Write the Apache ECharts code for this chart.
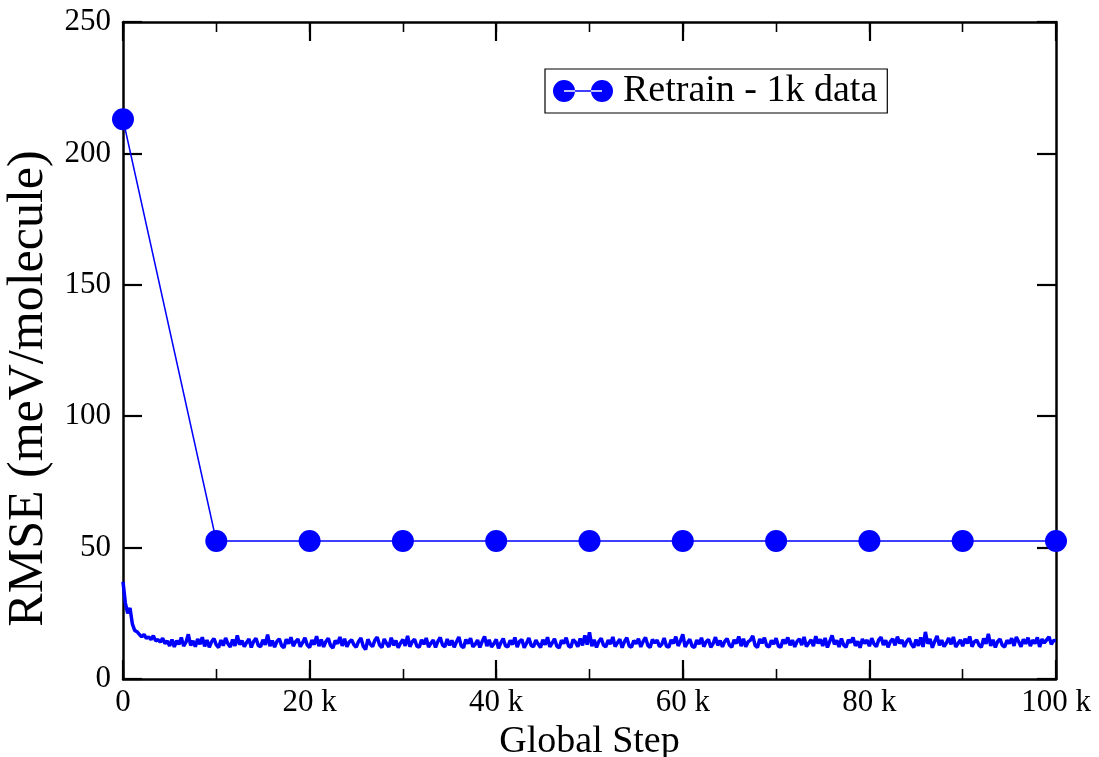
<!DOCTYPE html>
<html>
<head>
<meta charset="utf-8">
<script src="https://cdn.jsdelivr.net/npm/echarts@6/dist/echarts.min.js"></script>
<style>
html,body{margin:0;padding:0;background:#fff;}
#chart{width:1099px;height:757px;}
</style>
</head>
<body>
<div id="chart"></div>
<script>
// ---- data ----
const seriesName = 'Retrain - 1k data';
const markerSteps = [0, 10000, 20000, 30000, 40000, 50000, 60000, 70000, 80000, 90000, 100000];
const markerRmse = [213, 52.5, 52.5, 52.5, 52.5, 52.5, 52.5, 52.5, 52.5, 52.5, 52.5];

const noiseStep = 250; // sampling of the training curve (global steps)
const noiseRmse = [
 37, 29, 25, 27, 21, 18.5, 18, 17, 16, 17, 15.5, 16, 15, 16.5, 14.5, 15, 14, 15.5, 13.5, 14.5,
 12.6, 15.0, 12.2, 14.6, 13.2, 15.8, 12.5, 14.0, 17.0, 12.8, 14.5, 12.3, 15.2, 13.2, 15.9, 12.4, 14.8, 12.1, 14.2, 15.4,
 13.0, 12.0, 14.8, 12.7, 15.6, 13.4, 12.2, 15.0, 12.6, 16.6, 13.1, 14.6, 12.3, 13.9, 15.2, 12.0, 14.3, 15.5, 12.8, 12.3,
 14.9, 13.0, 16.9, 12.5, 14.6, 12.1, 14.3, 15.3, 12.7, 11.9, 15.1, 13.4, 15.9, 12.5, 14.2, 15.2, 12.3, 13.8, 15.7, 12.9,
 12.0, 14.8, 13.1, 16.3, 12.5, 15.0, 12.2, 14.3, 15.5, 12.7, 11.8, 14.6, 13.4, 16.0, 12.6, 15.3, 12.3, 14.1, 14.9, 13.0,
 12.1, 14.3, 15.6, 12.5, 11.2, 15.1, 13.3, 12.3, 14.8, 15.9, 12.9, 12.0, 15.2, 13.5, 12.2, 15.7, 12.8, 14.6, 11.9, 13.7,
 15.0, 12.6, 16.4, 12.3, 14.2, 15.1, 12.5, 12.1, 14.9, 13.2, 15.6, 12.2, 13.6, 14.8, 12.0, 14.3, 15.8, 12.9, 12.3, 15.2,
 12.8, 14.7, 12.1, 14.2, 16.0, 12.6, 11.9, 15.0, 13.5, 15.5, 12.3, 13.2, 14.8, 12.0, 14.3, 16.2, 12.5, 14.9, 12.2, 13.4,
 15.1, 11.7, 13.8, 15.4, 12.6, 12.2, 14.7, 13.1, 15.8, 12.1, 14.3, 15.0, 11.9, 13.6, 15.6, 12.8, 12.3, 14.8, 13.3, 12.0,
 14.9, 13.0, 15.9, 12.2, 13.7, 15.3, 12.5, 11.8, 14.7, 13.5, 15.7, 12.6, 12.1, 15.0, 14.0, 12.3, 15.4, 12.8, 16.6, 13.1,
 17.8, 12.5, 14.9, 12.0, 14.3, 15.5, 12.9, 12.2, 14.8, 13.3, 16.0, 12.3, 13.8, 15.1, 11.9, 14.2, 15.7, 12.6, 12.1, 14.6,
 13.4, 15.3, 12.2, 14.3, 15.8, 12.8, 12.0, 15.0, 13.7, 14.8, 12.3, 13.2, 15.6, 12.5, 12.1, 14.9, 13.5, 16.1, 12.6, 14.5,
 17.0, 12.2, 13.8, 15.1, 12.5, 12.0, 14.8, 13.3, 15.7, 12.3, 14.2, 15.0, 12.1, 13.5, 15.9, 12.8, 14.6, 12.2, 14.3, 15.4,
 12.9, 12.1, 14.9, 13.5, 16.2, 12.5, 15.3, 12.3, 14.2, 14.8, 16.4, 12.8, 12.0, 15.2, 13.6, 15.7, 12.6, 12.2, 14.7, 13.3,
 15.5, 12.5, 12.1, 15.0, 13.5, 15.8, 12.8, 14.8, 12.2, 14.3, 15.3, 12.9, 16.0, 12.3, 13.7, 14.9, 12.5, 16.3, 13.5, 15.1,
 12.6, 15.6, 12.0, 14.3, 16.6, 13.2, 14.7, 12.2, 15.4, 12.9, 12.1, 14.9, 13.9, 15.8, 12.6, 14.3, 11.9, 15.2, 13.5, 14.8,
 12.5, 15.5, 13.3, 12.3, 14.9, 15.9, 12.9, 14.7, 12.1, 14.2, 15.3, 12.8, 16.1, 13.5, 14.8, 12.2, 14.3, 15.4, 13.2, 12.0,
 15.0, 12.6, 15.8, 12.2, 17.9, 13.4, 15.2, 11.9, 14.3, 16.4, 12.8, 14.8, 12.3, 13.7, 15.6, 13.2, 16.0, 12.2, 13.5, 14.9,
 12.5, 15.3, 13.5, 16.2, 12.3, 14.2, 14.8, 12.9, 12.1, 15.4, 13.4, 17.2, 12.6, 14.9, 12.0, 14.3, 15.2, 12.8, 12.2, 14.7,
 13.5, 15.5, 12.6, 16.0, 14.2, 12.3, 15.1, 13.4, 15.7, 12.5, 14.8, 13.5, 15.8, 12.2, 15.2, 13.7, 14.9, 16.1, 13.2, 14.7,
 14.6
];

const xTickInterval = 20000;
const xMinorInterval = 10000;
const yTickInterval = 50;
const xLabel = 'Global Step';
const yLabel = 'RMSE (meV/molecule)';

// ---- chart ----
const FONT = "'Liberation Serif', 'Times New Roman', serif";
const BLUE = '#0000ff';
const chart = echarts.init(document.getElementById('chart'), null, {renderer: 'canvas'});

const markerData = markerSteps.map((s, i) => [s, markerRmse[i]]);
const noiseData = noiseRmse.map((v, i) => [i * noiseStep, v]);

const axisLine = {show: true, onZero: false, lineStyle: {color: '#000', width: 2.5}};
const majorTick = {show: true, inside: true, length: 19, lineStyle: {color: '#000', width: 2.2}};
const minorTickStyle = {show: true, inside: true, length: 10, lineStyle: {color: '#000', width: 1.3}};

const legendIcon = 'path://M0,11 A11,11 0 1,0 22,11 A11,11 0 1,0 0,11 Z M38,11 A11,11 0 1,0 60,11 A11,11 0 1,0 38,11 Z M11,10.2 L49,10.2 L49,11.8 L11,11.8 Z';

function minorXAxis(pos) {
  return {
    type: 'value', position: pos, offset: 0, min: 0, max: 100000, interval: xMinorInterval,
    axisLine: {show: true, onZero: false, lineStyle: {color: 'rgba(0,0,0,0)', width: 0}},
    axisTick: minorTickStyle,
    splitLine: {show: false}, axisLabel: {show: false}, z: 1
  };
}

chart.setOption({
  backgroundColor: '#fff',
  animation: false,
  grid: {left: 123, top: 22, right: 43, bottom: 78, containLabel: false, outerBoundsMode: 'none'},
  legend: {
    data: [seriesName],
    left: 545, top: 69,
    padding: [3, 10, 3, 8],
    borderColor: '#000', borderWidth: 1.2, borderRadius: 0,
    backgroundColor: '#fff',
    icon: legendIcon,
    itemWidth: 60, itemHeight: 22,
    itemStyle: {color: BLUE},
    textStyle: {fontFamily: FONT, fontSize: 38, color: '#000', lineHeight: 38, padding: [0, 0, 0, 5]}
  },
  xAxis: [{
    type: 'value', position: 'bottom', offset: 0, min: 0, max: 100000, interval: xTickInterval,
    axisLine: axisLine, axisTick: majorTick, splitLine: {show: false},
    minorTick: {show: true, splitNumber: 2, length: 10, lineStyle: {color: '#000', width: 1.3}},
    minorSplitLine: {show: false},
    axisLabel: {fontFamily: FONT, fontSize: 31, color: '#000', margin: 8,
      formatter: v => v === 0 ? '0' : (v / 1000) + ' k'},
    name: xLabel, nameLocation: 'middle', nameGap: 38,
    nameTextStyle: {fontFamily: FONT, fontSize: 38, color: '#000'}
  }, {
    type: 'value', position: 'top', offset: 0, min: 0, max: 100000, interval: xTickInterval,
    axisLine: axisLine, axisTick: majorTick, splitLine: {show: false},
    minorTick: {show: true, splitNumber: 2, length: 10, lineStyle: {color: '#000', width: 1.3}},
    minorSplitLine: {show: false},
    axisLabel: {show: false}
  }, minorXAxis('bottom'), minorXAxis('top')],
  yAxis: [{
    type: 'value', position: 'left', min: 0, max: 250, interval: yTickInterval,
    axisLine: axisLine, axisTick: majorTick, splitLine: {show: false},
    axisLabel: {fontFamily: FONT, fontSize: 31, color: '#000', margin: 12},
    name: yLabel, nameLocation: 'middle', nameGap: 62, nameRotate: 90,
    nameTextStyle: {fontFamily: FONT, fontSize: 50, color: '#000', padding: [0, 76, 0, 0]}
  }, {
    type: 'value', position: 'right', min: 0, max: 250, interval: yTickInterval,
    axisLine: axisLine, axisTick: majorTick, splitLine: {show: false},
    axisLabel: {show: false}
  }],
  series: [{
    name: 'training',
    type: 'line', xAxisIndex: 0, yAxisIndex: 0,
    data: noiseData, showSymbol: false, symbol: 'none',
    lineStyle: {color: BLUE, width: 3.5}, z: 3
  }, {
    name: seriesName,
    type: 'line', xAxisIndex: 0, yAxisIndex: 0,
    data: markerData, symbol: 'circle', symbolSize: 22, showAllSymbol: true,
    itemStyle: {color: BLUE}, lineStyle: {color: BLUE, width: 1.5},
    clip: false, z: 4
  }]
});
</script>
</body>
</html>
